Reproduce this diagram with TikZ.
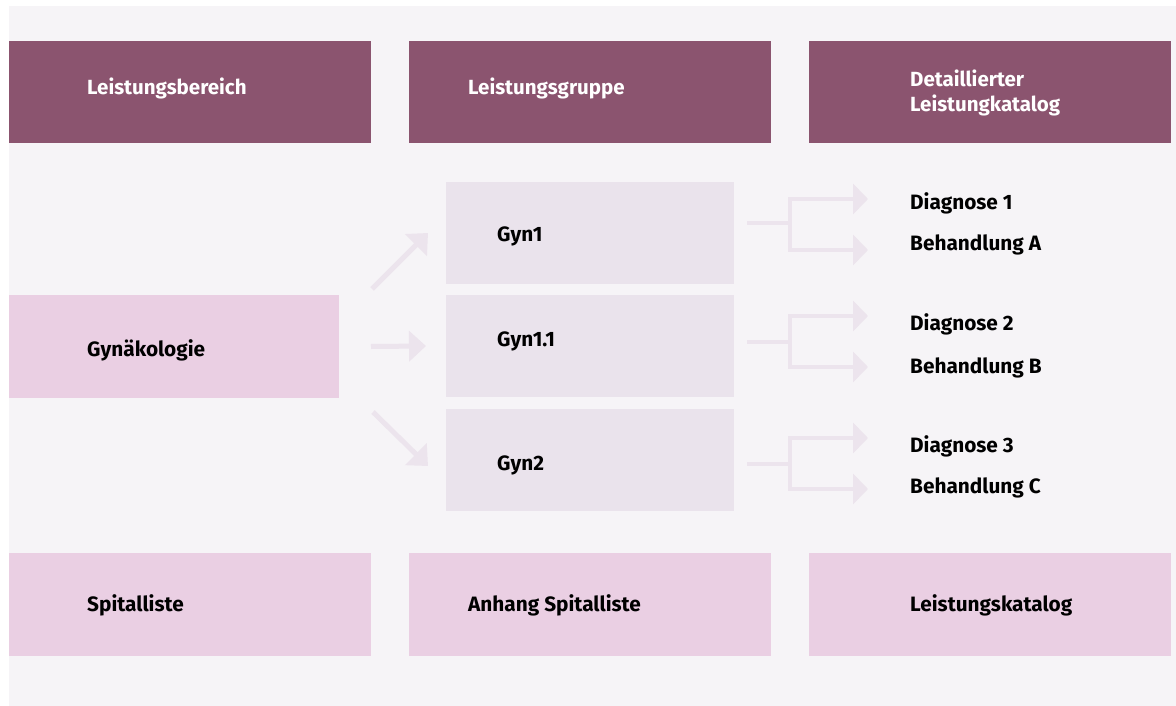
\documentclass[tikz,border=0pt]{standalone}
\usepackage{fontspec}
\setmainfont{Fira Sans}
\usetikzlibrary{arrows.meta}
\definecolor{bg}{HTML}{F6F4F7}
\definecolor{hdr}{HTML}{8B546F}
\definecolor{pinkbox}{HTML}{EACFE3}
\definecolor{graybox}{HTML}{EAE3EC}
\definecolor{arrowc}{HTML}{ECE4ED}
\tikzset{
  box/.style={anchor=north west, inner sep=0pt, outer sep=0pt, minimum height=102pt},
  hdrbox/.style={box, fill=hdr, minimum width=362pt},
  botbox/.style={box, fill=pinkbox, minimum width=362pt},
  gynbox/.style={box, fill=graybox, minimum width=288pt},
  lbl/.style={anchor=base west, inner sep=0pt, font=\fontsize{20.8}{25}\selectfont\bfseries},
  wlbl/.style={lbl, text=white, font=\fontsize{20.5}{25}\selectfont\bfseries},
  conn/.style={draw=arrowc, line width=5pt, -{Triangle[length=17pt,width=30pt]}},
  brline/.style={draw=arrowc, line width=4.5pt},
  brarr/.style={brline, -{Triangle[length=15pt,width=30pt]}}
}
\begin{document}
\begin{tikzpicture}[x=1pt,y=-1pt]
\useasboundingbox (0,0) rectangle (1176,706);
\fill[white] (0,0) rectangle (1176,706);
\fill[bg] (9,6) rectangle (1176,706);
% header boxes
\node[hdrbox] (h1) at (9,41) {};
\node[hdrbox] (h2) at (409,41) {};
\node[hdrbox] (h3) at (809,41) {};
\node[wlbl] (th1) at (87,95) {Leistungsbereich};
\node[wlbl] (th2) at (468,95) {Leistungsgruppe};
\node[wlbl] (th3a) at (910,87) {Detaillierter};
\node[wlbl] (th3b) at (910,112) {Leistungkatalog};
% middle
\node[box, fill=pinkbox, minimum width=330pt, minimum height=103pt] (gyn) at (9,295) {};
\node[lbl] (tgyn) at (87,356) {Gynäkologie};
\node[gynbox] (g1) at (446,182) {};
\node[gynbox] (g11) at (446,295) {};
\node[gynbox] (g2) at (446,409) {};
\node[lbl] (tg1) at (497,241) {Gyn1};
\node[lbl] (tg11) at (497,346) {Gyn1.1};
\node[lbl] (tg2) at (497,470) {Gyn2};
% arrows from Gynaekologie
\draw[conn] ([xshift=33pt,yshift=6pt]gyn.north east) -- ([xshift=-18pt]g1.west);
\draw[conn] ([xshift=32pt]gyn.east) -- ([xshift=-20pt]g11.west);
\draw[conn] ([xshift=34pt,yshift=-14pt]gyn.south east) -- ([xshift=-18pt,yshift=-6pt]g2.west);
% catalog texts
\node[lbl] (d1) at (910,209) {Diagnose 1};
\node[lbl] (b1) at (910,251) {Behandlung A};
\node[lbl] (d2) at (910,330) {Diagnose 2};
\node[lbl] (b2) at (910,373) {Behandlung B};
\node[lbl] (d3) at (910,452) {Diagnose 3};
\node[lbl] (b3) at (910,493) {Behandlung C};
% bracket arrows
\coordinate (r1) at (747,223); \coordinate (k1) at (790,223);
\coordinate (ta1) at (868,199); \coordinate (tb1) at (868,250);
\coordinate (r2) at (747,342); \coordinate (k2) at (790,342);
\coordinate (ta2) at (868,316); \coordinate (tb2) at (868,367);
\coordinate (r3) at (747,464); \coordinate (k3) at (790,464);
\coordinate (ta3) at (868,438); \coordinate (tb3) at (868,489);
\foreach \i in {1,2,3}{
  \draw[brline] (r\i) -- (k\i);
  \draw[brarr] (k\i) |- (ta\i);
  \draw[brarr] (k\i) |- (tb\i);
}
% bottom boxes
\node[botbox, minimum height=103pt] (s1) at (9,553) {};
\node[botbox, minimum height=103pt] (s2) at (409,553) {};
\node[botbox, minimum height=103pt] (s3) at (809,553) {};
\node[lbl] (ts1) at (87,611) {Spitalliste};
\node[lbl] (ts2) at (468,611) {Anhang Spitalliste};
\node[lbl] (ts3) at (910,611) {Leistungskatalog};
\end{tikzpicture}
\end{document}
